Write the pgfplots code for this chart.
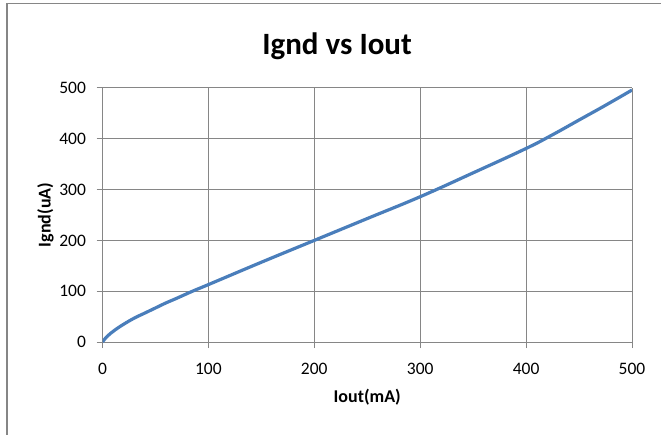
\documentclass[border=0pt]{standalone}
\usepackage{pgfplots}
\pgfplotsset{compat=1.18}
\usepackage{fontspec}
\setmainfont{Carlito}
\definecolor{lineblue}{RGB}{74,126,187}
\definecolor{gridgray}{RGB}{134,134,134}
\begin{document}
\begin{tikzpicture}
\useasboundingbox (0,0) rectangle (661pt,434pt);
\draw[gridgray, line width=1.5pt] (7pt,-5pt) -- (7pt,430.5pt) -- (670pt,430.5pt);
\begin{axis}[
  at={(102.5pt,92pt)}, anchor=south west,
  scale only axis, width=529.5pt, height=254pt,
  xmin=0, xmax=500, ymin=0, ymax=500,
  xtick={0,100,...,500}, ytick={0,100,...,500},
  axis lines*=left,
  grid=major,
  major grid style={gridgray, line width=1pt},
  axis line style={gridgray, line width=1pt},
  tick style={gridgray, line width=1pt},
  tick align=outside, major tick length=6pt,
  /pgf/number format/assume math mode=true,
  ticklabel style={font=\fontsize{17.5}{20}\selectfont, text=black},
  xticklabel style={yshift=-12pt},
  yticklabel style={xshift=-7pt},
  title={Ignd vs Iout},
  title style={font=\fontsize{31}{36}\selectfont\bfseries, at={(0.443,1)}, anchor=base, yshift=27pt},
  xlabel={Iout(mA)},
  xlabel style={font=\fontsize{18}{21}\selectfont\bfseries, at={(0.5,0)}, anchor=base, yshift=-60pt},
  ylabel={Ignd(uA)},
  ylabel style={font=\fontsize{18}{21}\selectfont\bfseries, at={(0,0.5)}, anchor=base, yshift=52pt},
]
\addplot[lineblue, line width=3.2pt, smooth, tension=0.7] table {
x y
0 0
3 8
7 16
12 24
20 35
30 47
40 57
50 67
60 77
70 86
85 100
100 113
150 157
200 200
250 243
300 286
350 333
400 381
425 408
450 437
475 466
500 496
};
\end{axis}
\end{tikzpicture}
\end{document}
